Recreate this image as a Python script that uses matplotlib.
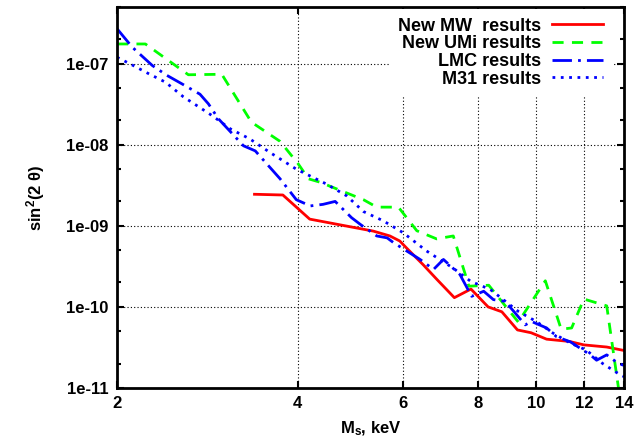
import matplotlib.pyplot as plt
from matplotlib.ticker import FixedLocator, FixedFormatter, NullLocator

plt.rcParams['font.family'] = ['Liberation Sans', 'DejaVu Sans']
plt.rcParams['font.weight'] = 'bold'
plt.rcParams['axes.labelweight'] = 'bold'
plt.rcParams['mathtext.fontset'] = 'custom'
plt.rcParams['mathtext.rm'] = 'Liberation Sans:bold'
plt.rcParams['mathtext.it'] = 'Liberation Sans:bold'
plt.rcParams['mathtext.bf'] = 'Liberation Sans:bold'

# ---- exclusion curves: sterile neutrino mass (keV) vs mixing angle ----
mw_m = [3.39, 3.78, 4.19, 5.35, 5.70, 5.92, 6.08, 6.48, 6.82, 7.30, 7.78, 8.31,
        8.76, 9.30, 9.80, 10.4, 11.35, 12.0, 13.1, 14.0]
mw_s = [2.45e-9, 2.4e-9, 1.21e-9, 8.6e-10, 7.5e-10, 6.5e-10, 5.3e-10, 3.3e-10,
        2.2e-10, 1.3e-10, 1.66e-10, 1.0e-10, 8.7e-11, 5.2e-11, 4.8e-11, 4.0e-11,
        3.75e-11, 3.4e-11, 3.2e-11, 2.9e-11]

umi_m = [2.0, 2.23, 2.63, 2.99, 3.35, 3.74, 4.01, 4.17, 4.36, 5.15, 5.42, 5.89,
         6.32, 6.82, 7.27, 7.72, 8.33, 9.33, 10.35, 11.0, 11.45, 12.0, 13.1, 13.8]
umi_s = [1.75e-7, 1.75e-7, 7.3e-8, 7.4e-8, 1.9e-8, 1.1e-8, 5.8e-9, 3.8e-9,
         3.45e-9, 2.1e-9, 1.7e-9, 1.7e-9, 8.7e-10, 6.9e-10, 7.5e-10, 1.8e-10,
         1.85e-10, 6.5e-11, 2.1e-10, 5.3e-11, 5.5e-11, 1.25e-10, 1.03e-10, 7e-12]

lmc_m = [2.0, 2.12, 2.29, 2.42, 2.57, 2.75, 2.84, 2.95, 3.25, 3.40, 3.74, 3.98,
         4.20, 4.41, 4.62, 4.92, 5.09, 5.42, 5.64, 5.78, 6.40, 6.74, 7.0, 7.46,
         7.80, 8.17, 8.48, 8.87, 9.17, 9.58, 9.82, 10.4, 10.8, 11.4, 12.3, 12.6,
         13.1, 13.7, 14.0]
lmc_s = [2.7e-7, 1.6e-7, 9.5e-8, 7.2e-8, 5.6e-8, 4.2e-8, 3.2e-8, 2.1e-8, 9.7e-9,
         8.4e-9, 3.8e-9, 2.1e-9, 1.76e-9, 1.84e-9, 2.0e-9, 1.26e-9, 1.04e-9,
         7.5e-10, 7.1e-10, 6.2e-10, 3.85e-10, 2.9e-10, 3.85e-10, 2.5e-10, 1.35e-10,
         1.56e-10, 1.23e-10, 1.17e-10, 8.8e-11, 6.0e-11, 6.6e-11, 5.5e-11, 4.3e-11,
         3.7e-11, 2.56e-11, 2.2e-11, 2.56e-11, 2.0e-11, 1.9e-11]

m31_m = [2.0, 2.10, 2.26, 2.41, 2.58, 2.77, 2.88, 3.09, 3.33, 3.60, 3.98, 4.47,
         4.83, 5.15, 5.56, 6.0, 6.56, 7.27, 7.77, 8.38, 9.33, 10.0, 10.66, 11.4,
         12.1, 12.9, 13.8, 14.0]
m31_s = [1.2e-7, 1.0e-7, 7.5e-8, 5.9e-8, 3.9e-8, 2.77e-8, 2.29e-8, 1.57e-8,
         1.18e-8, 8.0e-9, 5.0e-9, 3.27e-9, 2.34e-9, 1.5e-9, 1.15e-9, 8.2e-10,
         4.9e-10, 3.0e-10, 2.07e-10, 1.64e-10, 8.8e-11, 6.6e-11, 4.75e-11,
         3.57e-11, 2.95e-11, 2.0e-11, 1.45e-11, 1.38e-11]

x_ticks = [2, 4, 6, 8, 10, 12, 14]
y_ticks = [1e-11, 1e-10, 1e-9, 1e-8, 1e-7]
y_labels = ['1e-11', '1e-10', '1e-09', '1e-08', '1e-07']

fig = plt.figure(figsize=(6.38, 4.43), dpi=100)
ax = fig.add_axes([0.1834, 0.1242, 0.7947, 0.86])

ax.plot(mw_m, mw_s, color='#ff0000', lw=2, label='New MW  results')
ax.plot(umi_m, umi_s, color='#00ff00', lw=2, ls=(0, (4, 3)), label='New UMi results')
ax.plot(lmc_m, lmc_s, color='#0000ff', lw=2, ls=(0, (7, 2.2, 1, 2.2)), label='LMC results')
ax.plot(m31_m, m31_s, color='#0000ff', lw=2, ls=(0, (1, 2)), label='M31 results')

ax.set_xscale('log')
ax.set_yscale('log')
ax.set_xlim(2, 14)
ax.set_ylim(1e-11, 5e-7)

ax.xaxis.set_major_locator(FixedLocator(x_ticks))
ax.xaxis.set_major_formatter(FixedFormatter([str(t) for t in x_ticks]))
ax.xaxis.set_minor_locator(NullLocator())
ax.yaxis.set_major_locator(FixedLocator(y_ticks))
ax.yaxis.set_major_formatter(FixedFormatter(y_labels))
ax.yaxis.set_minor_locator(FixedLocator([m * 10.0 ** e for e in range(-11, -6) for m in (2, 5)]))

ax.tick_params(which='both', direction='in', top=True, right=True, width=1.5, labelsize=12)
ax.tick_params(which='major', length=5, pad=6)
ax.tick_params(which='minor', length=3)
for s in ax.spines.values():
    s.set_linewidth(2)

ax.grid(True, which='major', color='black', ls=(0, (1, 2)), lw=0.8)

ax.set_xlabel('M$_s$, keV', fontsize=12, labelpad=6)
ax.set_ylabel('sin$^2$(2 θ)', fontsize=12, labelpad=14)

leg = ax.legend(loc='upper right', bbox_to_anchor=(0.976, 0.996), borderaxespad=0,
                markerfirst=False, fontsize=13, handlelength=2.8, handletextpad=0.6,
                labelspacing=0.04, borderpad=0.5, fancybox=False, framealpha=1,
                edgecolor='none', facecolor='white')

fig.savefig('out.png', dpi=100)
